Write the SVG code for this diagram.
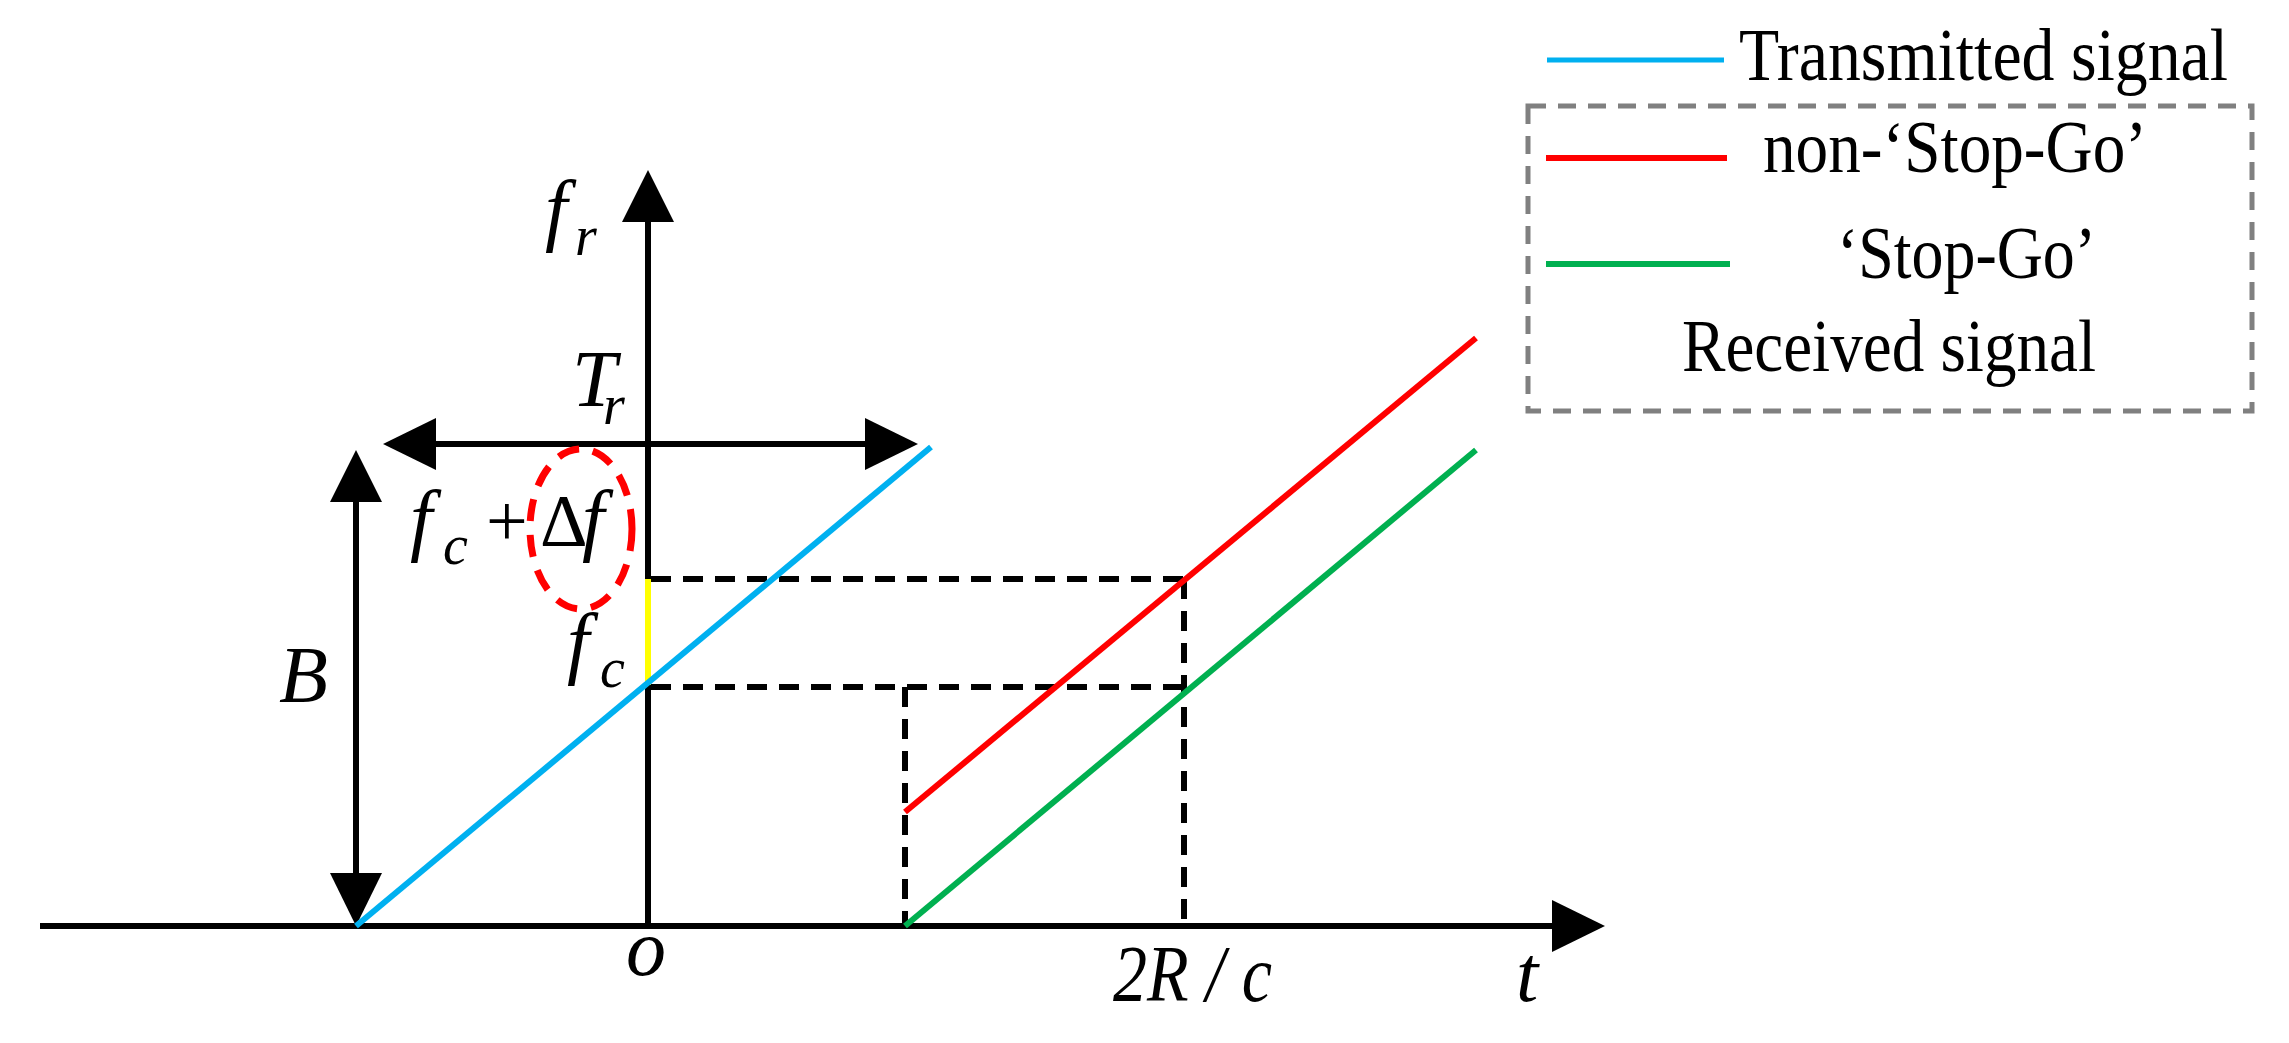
<svg xmlns="http://www.w3.org/2000/svg" width="2289" height="1043" viewBox="0 0 2289 1043">
<style>
.ax{stroke:#000;stroke-width:6;fill:none}
.dash{stroke:#000;stroke-width:6;stroke-dasharray:20 12;fill:none}
.m{font-family:"Liberation Serif",serif;font-style:italic;font-size:80px;fill:#000}
.s{font-family:"Liberation Serif",serif;font-style:italic;font-size:56px;fill:#000}
.lg{font-family:"Liberation Serif",serif;font-size:74px;fill:#000}
</style>
<rect width="2289" height="1043" fill="#fff"/>
<g id="connectors">
<line class="ax" x1="40" y1="926" x2="1555" y2="926"/>
<polygon points="1605,926 1552,900 1552,952"/>
<line class="ax" x1="648" y1="926" x2="648" y2="220"/>
<polygon points="648,170 622,222 674,222"/>
<line class="ax" x1="430" y1="444" x2="870" y2="444"/>
<polygon points="383,444 436,418 436,470"/>
<polygon points="918,444 865,418 865,470"/>
<line class="ax" x1="356" y1="500" x2="356" y2="876"/>
<polygon points="356,450 330,502 382,502"/>
<polygon points="356,926 330,873 382,873"/>
<line class="dash" x1="651" y1="579" x2="1184" y2="579"/>
<line class="dash" x1="651" y1="687" x2="1184" y2="687"/>
<line class="dash" x1="905" y1="687" x2="905" y2="926"/>
<line class="dash" x1="1184" y1="579" x2="1184" y2="926"/>
<line x1="648" y1="579" x2="648" y2="685" stroke="#ffff00" stroke-width="6"/>
<line x1="356" y1="926" x2="931" y2="447" stroke="#00b0f0" stroke-width="6"/>
<line x1="905" y1="812" x2="1476" y2="338" stroke="#ff0000" stroke-width="6"/>
<line x1="905" y1="926" x2="1476" y2="450" stroke="#00b050" stroke-width="6"/>
<ellipse cx="581" cy="529" rx="51" ry="80" fill="none" stroke="#ff0000" stroke-width="7" stroke-dasharray="22 14"/>
</g>
<g id="labels">
<text class="m" x="545" y="236">f</text><text class="s" x="575" y="255">r</text>
<text class="m" x="572" y="406">T</text><text class="s" x="603" y="424">r</text>
<text class="m" x="410" y="546">f</text><text class="s" x="443" y="564">c</text>
<text class="lg" x="486" y="546">+</text>
<text class="lg" x="540" y="546" font-size="68">Δ</text><text class="m" x="582" y="546">f</text>
<text class="m" x="567" y="669">f</text><text class="s" x="600" y="687">c</text>
<text class="m" x="279" y="702">B</text>
<text class="m" x="626" y="975">o</text>
<text class="m" x="1113" y="1001" textLength="159" lengthAdjust="spacingAndGlyphs">2R / c</text>
<text class="m" x="1516" y="1001">t</text>
</g>
<g id="legend">
<line x1="1547" y1="60" x2="1724" y2="60" stroke="#00b0f0" stroke-width="5"/>
<text class="lg" x="1739" y="80" textLength="489" lengthAdjust="spacingAndGlyphs">Transmitted signal</text>
<rect x="1528" y="106" width="724" height="305" fill="none" stroke="#808080" stroke-width="5" stroke-dasharray="18 12"/>
<line x1="1546" y1="158" x2="1727" y2="158" stroke="#ff0000" stroke-width="6"/>
<text class="lg" x="1763" y="172" textLength="384" lengthAdjust="spacingAndGlyphs">non-‘Stop-Go’</text>
<line x1="1546" y1="264" x2="1730" y2="264" stroke="#00b050" stroke-width="6"/>
<text class="lg" x="1837" y="278" textLength="259" lengthAdjust="spacingAndGlyphs">‘Stop-Go’</text>
<text class="lg" x="1682" y="371" textLength="414" lengthAdjust="spacingAndGlyphs">Received signal</text>
</g>
</svg>
